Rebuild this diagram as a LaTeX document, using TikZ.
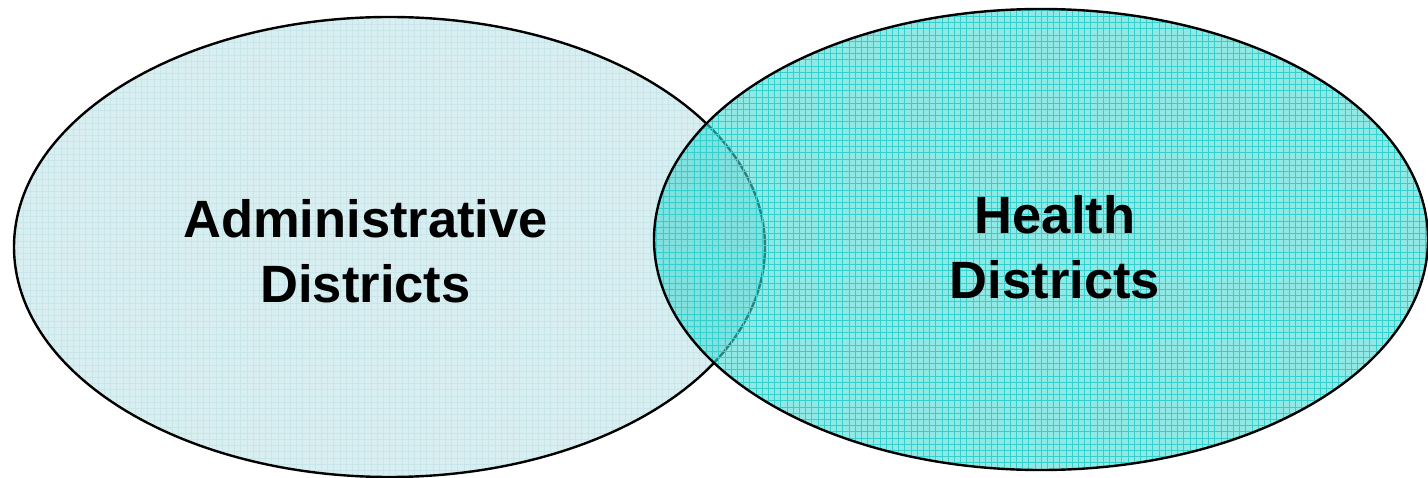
\documentclass[tikz,border=0pt]{standalone}
\usepackage{fontspec}
\setmainfont{Liberation Sans}
\usetikzlibrary{shapes.geometric}
\definecolor{adminFill}{RGB}{216,238,240}
\definecolor{adminGrid}{RGB}{200,230,233}
\definecolor{healthFill}{RGB}{72,218,214}
\definecolor{healthGrid}{RGB}{52,208,206}
\tikzset{
	setBlob/.style={
		ellipse,
		draw=black,
		line width=2.4pt,
		inner sep=0pt
	},
	setLabel/.style={
		align=center,
		inner sep=0pt,
		font=\fontsize{52.5}{65}\selectfont\bfseries
	},
	gridFill/.style={
		path picture={
			\draw[#1, line width=0.5pt] (path picture bounding box.south west)
			grid[step=6.2pt] (path picture bounding box.north east);
		}
	}
}
\begin{document}
\begin{tikzpicture}[x=1pt,y=-1pt]
	\useasboundingbox (0,0) rectangle (1428,478);

	% the two sets
	\node[setBlob, fill=adminFill, gridFill=adminGrid,
		minimum width=751pt, minimum height=460pt] (admin) at (389.5,247) {};
	\node[setBlob, fill=healthFill, fill opacity=0.6, draw opacity=1, gridFill=healthGrid,
		minimum width=774pt, minimum height=461pt] (health) at (1041,239.5) {};

	% labels
	\node[setLabel] (adminText) at (365.5,251.5) {Administrative\\Districts};
	\node[setLabel] (healthText) at (1055,247.5) {Health\\Districts};

\end{tikzpicture}
\end{document}
